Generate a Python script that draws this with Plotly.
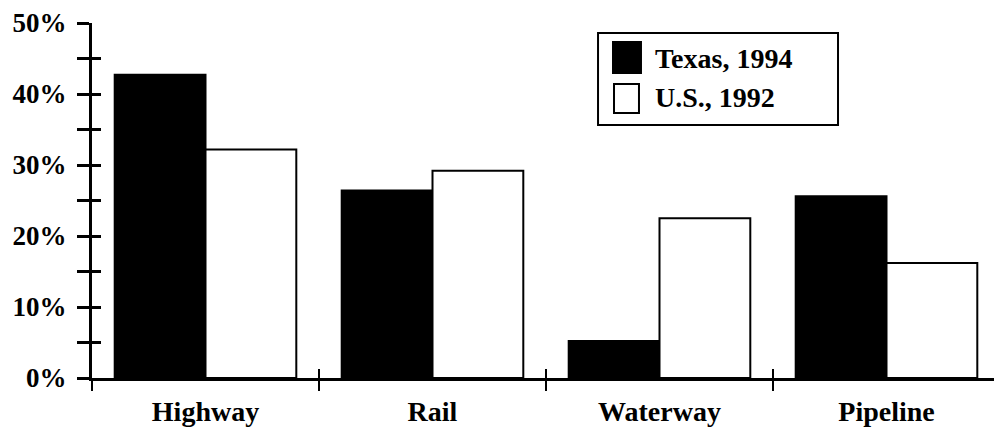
import plotly.graph_objects as go

categories = ["Highway", "Rail", "Waterway", "Pipeline"]
texas_1994 = [42.7, 26.4, 5.2, 25.6]
us_1992 = [32.2, 29.2, 22.5, 16.2]
y_tickvals = [0, 10, 20, 30, 40, 50]
y_ticktext = ["0%", "10%", "20%", "30%", "40%", "50%"]
legend_names = ["Texas, 1994", "U.S., 1992"]

FONT = "Liberation Serif"

fig = go.Figure()
fig.add_trace(go.Bar(x=categories, y=texas_1994, name=legend_names[0],
                     marker=dict(color="black", line=dict(color="black", width=2)),
                     showlegend=False))
fig.add_trace(go.Bar(x=categories, y=us_1992, name=legend_names[1],
                     marker=dict(color="white", line=dict(color="black", width=2)),
                     showlegend=False))
# invisible trace to carry the overlay axes that draw the inner half of the ticks
fig.add_trace(go.Scatter(x=categories, y=us_1992, xaxis="x2", yaxis="y2",
                         mode="markers", marker=dict(opacity=0), hoverinfo="skip",
                         showlegend=False))

# the page body adds an 8px offset, so the figure is 8px smaller and margins compensate
fig.update_layout(
    width=994, height=428,
    margin=dict(l=84, r=2, t=15, b=58, autoexpand=False),
    paper_bgcolor="white", plot_bgcolor="white",
    barmode="group", bargap=0.2, bargroupgap=0,
    font=dict(family=FONT, color="black", size=24, weight="bold"),
    xaxis=dict(type="category", range=[-0.5, 3.5], tickson="boundaries",
               ticks="outside", ticklen=10, tickwidth=2, tickcolor="black",
               showline=True, linecolor="black", linewidth=3, showgrid=False,
               tickfont=dict(family=FONT, size=28, weight="bold"),
               ticklabelstandoff=6, automargin=False),
    yaxis=dict(range=[0, 50], tickvals=y_tickvals, ticktext=y_ticktext,
               ticks="outside", ticklen=12, tickwidth=3, tickcolor="black",
               minor=dict(dtick=5, ticks="outside", ticklen=12, tickwidth=3, tickcolor="black"),
               showline=True, linecolor="black", linewidth=3, showgrid=False,
               zeroline=False, tickfont=dict(family=FONT, size=27, weight="bold"),
               ticklabelstandoff=5, automargin=False),
    xaxis2=dict(type="category", overlaying="x", range=[-0.5, 3.5], tickson="boundaries",
                ticks="inside", ticklen=9, tickwidth=2, tickcolor="black",
                showticklabels=False, showline=False, showgrid=False, automargin=False),
    yaxis2=dict(overlaying="y", range=[0, 50], tickvals=y_tickvals,
                ticks="inside", ticklen=9, tickwidth=3, tickcolor="black",
                minor=dict(dtick=5, ticks="inside", ticklen=9, tickwidth=3, tickcolor="black"),
                showticklabels=False, showline=False, showgrid=False, zeroline=False,
                automargin=False),
)

# legend box drawn manually so the swatches can match the large original squares
fig.add_shape(type="rect", xref="paper", yref="paper", x0=0.5573, x1=0.8216, y0=0.7127, y1=0.9718,
              line=dict(color="black", width=2), fillcolor="white", layer="above")
fig.add_shape(type="rect", xref="paper", yref="paper", x0=0.5738, x1=0.6046, y0=0.8592, y1=0.9465,
              line=dict(color="black", width=2), fillcolor="black", layer="above")
fig.add_shape(type="rect", xref="paper", yref="paper", x0=0.5749, x1=0.6024, y0=0.7465, y1=0.8282,
              line=dict(color="black", width=2), fillcolor="white", layer="above")
fig.add_annotation(xref="paper", yref="paper", x=0.618, y=0.901, xanchor="left", yanchor="middle",
                   text=legend_names[0], showarrow=False,
                   font=dict(family=FONT, size=28, weight="bold"))
fig.add_annotation(xref="paper", yref="paper", x=0.618, y=0.789, xanchor="left", yanchor="middle",
                   text=legend_names[1], showarrow=False,
                   font=dict(family=FONT, size=28, weight="bold"))

fig.write_html("out.html")
